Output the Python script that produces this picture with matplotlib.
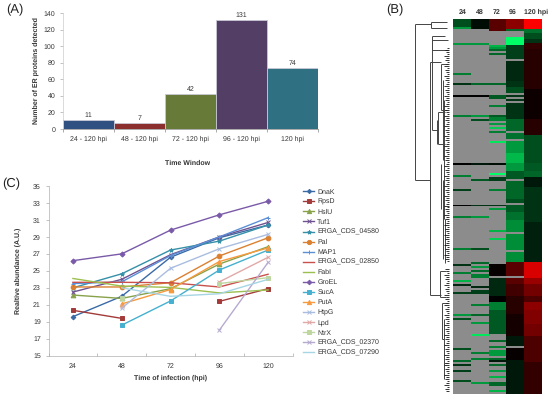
import numpy as np
import matplotlib
matplotlib.use("Agg")
import matplotlib.pyplot as plt
from matplotlib.colors import LinearSegmentedColormap

plt.rcParams['font.family'] = ['Liberation Sans', 'DejaVu Sans']
plt.rcParams['text.hinting'] = 'no_hinting'
plt.rcParams['text.hinting_factor'] = 1

W, H = 550, 398
DARK = '#333333'

# ---------- Panel A ----------
windows = ['24 - 120 hpi', '48 - 120 hpi', '72 - 120 hpi', '96 - 120 hpi', '120 hpi']
protein_counts = [11, 7, 42, 131, 74]
bar_colors = ['#2f5080', '#8b2f2e', '#677a37', '#533f66', '#2f7082']

# ---------- Panel C ----------
hours = ['24', '48', '72', '96', '120']
nan = np.nan
DnaK = [19.6, 22.0, 26.6, 28.9, 30.4]
RpsD = [20.35, 19.4, nan, 21.4, 22.9]
HslU = [22.15, 21.75, 22.9, 25.8, 27.85]
Tuf1 = [22.5, 24.0, 26.9, 29.0, 30.7]
CDS_04580 = [23.0, 24.65, 27.45, 28.5, 30.4]
Pal = [23.1, 23.1, 23.6, 26.75, 28.9]
MAP1 = [23.5, 23.7, 26.8, 29.0, 31.27]
CDS_02850 = [23.65, 23.65, 23.6, 23.1, 24.6]
FabI = [24.1, 23.2, 23.05, 22.4, 22.75]
GroEL = [26.2, 27.0, 29.8, 31.6, 33.2]
SucA = [nan, 18.6, 21.45, 25.1, 27.45]
PutA = [nan, 21.1, 22.8, 26.1, 27.7]
HtpG = [nan, 20.6, 25.3, 27.6, 29.3]
Lpd = [nan, 20.8, nan, 23.7, 26.6]
NtrX = [nan, 21.75, nan, 23.5, 24.2]
CDS_02370 = [nan, nan, nan, 18.0, 26.0]
CDS_07290 = [nan, 23.0, 22.0, 22.3, 24.0]
series = [
    ('DnaK', DnaK, '#3a6aa6', 'D', 2.4), ('RpsD', RpsD, '#a33b3a', 's', 3.4),
    ('HslU', HslU, '#88a24a', '^', 3.4), ('Tuf1', Tuf1, '#6f5290', 'x', 2.6),
    ('ERGA_CDS_04580', CDS_04580, '#3590a8', '*', 3.2), ('Pal', Pal, '#db8030', 'o', 3.4),
    ('MAP1', MAP1, '#5b8fd6', '+', 3.2), ('ERGA_CDS_02850', CDS_02850, '#c9504d', '', 0),
    ('FabI', FabI, '#9cc04f', '', 0), ('GroEL', GroEL, '#7a5aa8', 'D', 2.6),
    ('SucA', SucA, '#45b0cf', 's', 3.4), ('PutA', PutA, '#f79a3e', '^', 3.4),
    ('HtpG', HtpG, '#a9bde0', 'x', 2.8), ('Lpd', Lpd, '#e0a9a8', 'x', 2.8),
    ('NtrX', NtrX, '#c0d6a0', 's', 3.0), ('ERGA_CDS_02370', CDS_02370, '#b7aad0', 'x', 2.8),
    ('ERGA_CDS_07290', CDS_07290, '#a6d5e3', '', 0),
]

# ---------- Panel B: (rows, value) runs; None = no data ----------
N = None
col96 = [(5, .55), (1, -.4), (3, N), (4, -1), (7, -.25), (1, N), (10, -.15), (3, -.2), (3, -.3), (1, N),
         (1, -.2), (1, N), (1, -.2), (1, N), (8, -.2), (6, -.4), (1, N), (3, -.45), (1, N), (6, -.6), (5, -.72),
         (4, -.6), (4, -.35), (1, N), (9, -.4), (2, -.3), (1, N), (4, -.35), (4, -.45), (6, -.55), (1, N),
         (8, -.55), (1, N), (5, -.55), (7, .35), (1, N), (3, .35), (6, .25), (9, .15), (11, .08), (5, -.1),
         (1, N), (6, .03), (17, -.1)]
col120 = [(5, 1.0), (2, -.45), (3, -.3), (2, -.2), (3, .2), (20, .15), (15, .05), (8, .15), (14, -.3),
          (4, -.35), (3, -.4), (5, -.1), (18, -.2), (20, -.12), (8, .85), (3, .6), (6, .45), (3, .3),
          (4, .55), (7, .5), (6, .45), (7, .3), (6, .3), (7, .2), (9, .2)]
col72_base = [(6, .35)]
col72_block = [(6, .03), (1, N), (9, -.15), (3, .0), (4, -.5), (3, -.35), (9, -.35)]
col72_lines = {13: -.7, 14: -.6, 15: -.4, 17: -.4, 32: -.4, 38: -.35, 39: -.35, 43: -.5, 48: -.35, 49: -.5,
               50: -.5, 52: -.6, 54: -.8, 56: -.5, 61: -.9, 72: -.05, 77: -1, 79: -.25, 80: -.25, 85: -.5,
               93: -.2, 95: -.6, 106: -.7, 110: -.8, 161: -.4, 164: -.5, 166: -.6, 167: -.6, 168: -.6, 170: -.4,
               171: -.1, 173: -.4, 176: -.6, 179: -.7, 182: -.4, 183: -.4, 186: -.7}
col24_lines = {0: -.3, 1: -.3, 2: -.3, 3: -.3, 4: -.6, 12: -.6, 27: -.5, 32: -.2, 38: 0, 48: -.5, 72: 0, 78: -.5,
               85: -.25, 93: 0, 99: -.5, 115: -.5, 123: -.2, 127: -.5, 131: -.7, 133: -.15, 137: -.25, 148: -.6,
               150: -.3, 165: -.3, 171: -.4, 173: -.2, 176: -.25, 181: -.3}
col48_lines = {0: -.05, 1: -.05, 2: -.05, 3: -.05, 4: -.05, 12: -.6, 32: -.4, 38: 0, 48: -.6, 50: -.3, 72: -.1,
               80: -.35, 93: -.2, 99: -.6, 115: -.3, 122: -.4, 124: -.6, 126: -.4, 128: -.5, 129: -.5, 134: -.15,
               136: -.25, 137: -.25, 143: -.5, 148: -.4, 152: -.6, 158: -.9, 167: -.5, 170: -.5, 182: -.6}
heat_labels = ['24', '48', '72', '96', '120 hpi']

# Dendrogram: vertical branches (depth px, top row, bottom row) and arms (row, from depth, to depth)
v_depth = [415, 431, 430, 432, 438, 441, 443, 444, 432, 441, 437, 443, 445, 440, 442, 444]
v_top = [2, 1, 21, 8, 46, 22, 30, 40, 10, 72, 50, 80, 100, 126, 142, 150]
v_bot = [80, 4, 138, 55, 62, 45, 70, 100, 15, 95, 62, 120, 122, 139, 160, 180]
arm_row = [2, 80, 21, 138, 1, 4, 8, 55, 62, 46, 22, 45, 126, 139, 142, 160, 172, 10, 15]
arm_from = [415, 415, 430, 430, 431, 431, 432, 432, 438, 438, 441, 441, 440, 440, 442, 442, 444, 432, 432]
arm_to = [431, 430, 441, 441, 447, 447, 445, 438, 445, 445, 447, 447, 446, 446, 447, 444, 447, 448, 448]
twig_pattern = [3, 1, 2, 4, 1, 3, 2, 1, 4, 2]


def runs_to_column(runs, n):
    out = []
    for count, val in runs:
        out += [np.nan if val is None else val] * count
    return (out + [np.nan] * n)[:n]


def lines_to_column(lines, n):
    c = np.full(n, np.nan)
    for r, v in lines.items():
        c[r] = v
    return c


def make_axes(left, top, right, bottom):
    return fig.add_axes([left / W, 1 - bottom / H, (right - left) / W, (bottom - top) / H])


fig = plt.figure(figsize=(W / 100, H / 100), dpi=100, facecolor='white')

# Panel A
ax = make_axes(63, 13, 318, 129)
ax.bar(range(5), protein_counts, width=1.0, color=bar_colors, edgecolor='#c9c9d6', linewidth=0.6)
for i, v in enumerate(protein_counts):
    ax.text(i, v + 2, str(v), ha='center', va='bottom', fontsize=5.2, color=DARK)
ax.set_xlim(-0.5, 4.5)
ax.set_ylim(0, 140)
ax.set_yticks(range(0, 141, 20))
ax.set_xticks(np.arange(-0.5, 5, 1))
ax.set_xticklabels([])
ax.set_xticks(range(5), minor=True)
ax.set_xticklabels(windows, minor=True)
ax.tick_params(axis='x', which='minor', length=0, labelsize=5.1, labelcolor=DARK, pad=5)
ax.tick_params(axis='x', which='major', length=2.5, width=.5, color='#888888')
ax.tick_params(axis='y', length=2.5, width=.5, color='#aaaaaa', labelsize=5.1, labelcolor=DARK, pad=3)
for s in ('top', 'right'):
    ax.spines[s].set_visible(False)
ax.spines['left'].set_color('#cccccc')
ax.spines['bottom'].set_color('#888888')
for s in ('left', 'bottom'):
    ax.spines[s].set_linewidth(.5)
ax.set_ylabel('Number of ER proteins detected', fontsize=5.0, fontweight='bold', color=DARK)
ax.yaxis.set_label_coords((39 - 63) / 255, .5)
ax.set_xlabel('Time Window', fontsize=5.0, fontweight='bold', color=DARK)
ax.xaxis.set_label_coords((187.5 - 63) / 255, -(159.5 - 129) / 116)

# Panel C
ax = make_axes(48.5, 186, 292.5, 355.7)
x = np.arange(5)
handles = []
for name, vals, col, mk, ms in series:
    h, = ax.plot(x, vals, color=col, marker=mk or None, ms=ms, lw=1.0, mew=.7, label=name)
    handles.append(h)
ax.set_xlim(-0.5, 4.5)
ax.set_ylim(15, 35)
ax.set_yticks(range(15, 36, 2))
ax.set_xticks(np.arange(-0.5, 5, 1))
ax.set_xticklabels([])
ax.set_xticks(x, minor=True)
ax.set_xticklabels(hours, minor=True)
ax.tick_params(axis='x', which='minor', length=0, labelsize=5.1, labelcolor=DARK, pad=5)
ax.tick_params(axis='x', which='major', length=2, width=.5, color='#aaaaaa', direction='in')
ax.tick_params(axis='y', length=2.5, width=.5, color='#aaaaaa', labelsize=5.1, labelcolor=DARK, pad=3)
for s in ('top', 'right'):
    ax.spines[s].set_visible(False)
for s in ('left', 'bottom'):
    ax.spines[s].set_color('#b0b0b0')
    ax.spines[s].set_linewidth(.5)
ax.set_ylabel('Realtive abundance (A.U.)', fontsize=4.7, fontweight='bold', color=DARK)
ax.yaxis.set_label_coords((21 - 48.5) / 244, .5)
ax.set_xlabel('Time of infection (hpi)', fontsize=4.7, fontweight='bold', color=DARK)
ax.xaxis.set_label_coords((171 - 48.5) / 244, -(374.5 - 355.7) / 169.7)
fig.legend(handles=handles, loc='upper left', bbox_to_anchor=(303.5 / W, 1 - 188.5 / H), frameon=False,
           fontsize=4.8, labelcolor=DARK, handlelength=1.65, handletextpad=.42, labelspacing=.53,
           borderpad=0, borderaxespad=0, markerscale=.9)

# Panel B heat map
n_rows = 188
matrix = np.column_stack([
    lines_to_column(col24_lines, n_rows),
    lines_to_column(col48_lines, n_rows),
    lines_to_column(col72_lines, n_rows),
    runs_to_column(col96, n_rows),
    runs_to_column(col120, n_rows),
])
# solid parts of the 72 hpi column
matrix[:6, 2] = runs_to_column(col72_base, 6)
matrix[123:123 + 35, 2] = runs_to_column(col72_block, 35)
cmap = LinearSegmentedColormap.from_list('gbr', ['#00ff66', '#000000', '#ff0000'])
cmap.set_bad('#8c8c8c')
ax = make_axes(453.3, 19, 542, 394)
ax.imshow(np.ma.masked_invalid(matrix), cmap=cmap, vmin=-1, vmax=1, aspect='auto', interpolation='nearest')
ax.set_xticks([0.05, 0.98, 1.92, 2.85, 4.15])
ax.set_xticklabels(heat_labels, fontsize=5.0, fontweight='bold', color=DARK)
ax.set_xlim(-.5, 4.5)
ax.xaxis.tick_top()
ax.tick_params(length=0, pad=2.8)
ax.set_yticks([])
for s in ax.spines.values():
    s.set_visible(False)

# Panel B dendrogram
ax = make_axes(405, 19, 452, 394)
ax.set_xlim(405, 452)
ax.set_ylim(n_rows - .5, -.5)
ax.axis('off')
for d, t, b in zip(v_depth, v_top, v_bot):
    ax.plot([d, d], [t, b], color='#444444', lw=.7, solid_capstyle='butt')
for r, f, t in zip(arm_row, arm_from, arm_to):
    ax.plot([f, t], [r, r], color='#444444', lw=.7, solid_capstyle='butt')
for r in range(14, 187):
    tw = twig_pattern[r % len(twig_pattern)]
    if r < 122 or r > 124:
        ax.plot([448 - tw, 448.5], [r, r], color='#111111', lw=.6, solid_capstyle='butt')

# Panel letters
for txt, px, py in [('(A)', 6, 10), ('(B)', 386, 10), ('(C)', 2, 184)]:
    fig.text(px / W, 1 - py / H, txt, fontsize=9.5, color='#222222', va='center', ha='left')

fig.savefig('out.png', dpi=100)
